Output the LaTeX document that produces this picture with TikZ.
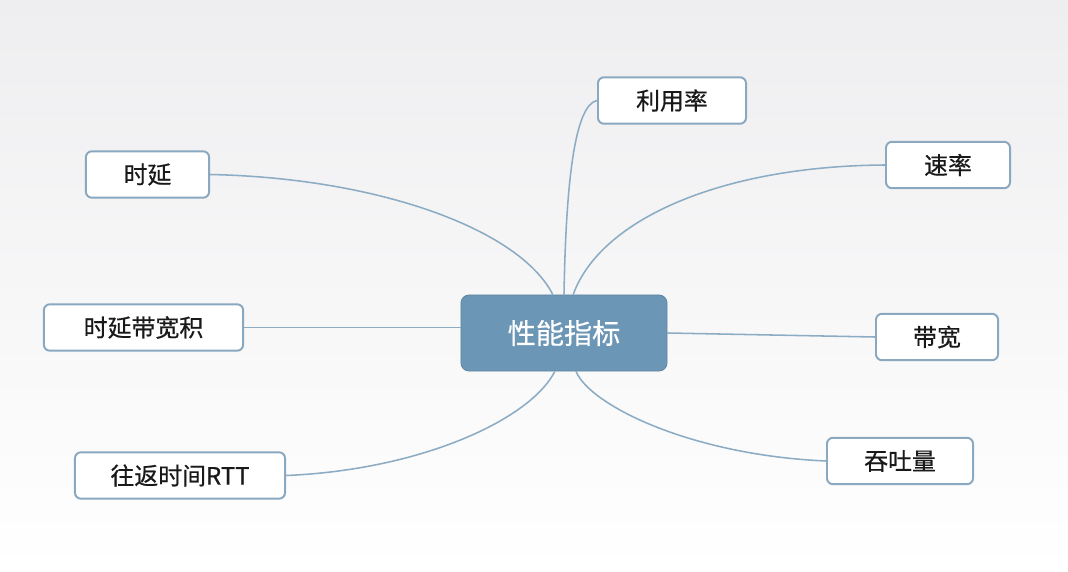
\documentclass[tikz,border=0pt]{standalone}
\usepackage{xcolor}
\usepackage{fontspec}
\usepackage{tikz}
\usetikzlibrary{positioning,calc}
\newfontfamily\cjk[FakeBold=0.5]{Noto Sans CJK SC}
\definecolor{hubblue}{RGB}{108,150,181}
\definecolor{leafline}{RGB}{138,168,192}
\definecolor{linkblue}{RGB}{140,172,196}
\definecolor{bgtop}{RGB}{238,238,240}

\begin{document}
\begin{tikzpicture}[x=0.025cm, y=-0.025cm,
  hub/.style={fill=hubblue, draw=hubblue!90!black, line width=0.6pt,
              rounded corners=0.2cm, minimum width=5.15cm,
              minimum height=1.9cm, inner sep=0pt, text=white,
              font=\cjk\fontsize{20}{24}\selectfont},
  leaf/.style={draw=leafline, fill=white, line width=1.4pt,
               rounded corners=0.15cm, minimum height=1.16cm,
               inner sep=0pt, text=black!90,
               font=\cjk\fontsize{17}{20}\selectfont},
  link/.style={draw=linkblue, line width=1.1pt}]
  % Background
  \useasboundingbox (0,0) rectangle (1068,572);
  \fill[top color=bgtop, bottom color=white] (0,0) rectangle (1068,572);
  % Center
  \node[hub] (core) at (564,333) {性能指标};
  % Leaves, left side
  \node[leaf, minimum width=3.08cm] (delay) at (147.5,174.5) {时延};
  \node[leaf, minimum width=4.98cm] (delaybw) at (143.5,327.5) {时延带宽积};
  \node[leaf, minimum width=5.25cm] (rtt) at (180,475.5) {往返时间RTT};
  % Leaves, right side
  \node[leaf, minimum width=3.7cm] (usage) at (672,100.5) {利用率};
  \node[leaf, minimum width=3.1cm] (rate) at (948,165) {速率};
  \node[leaf, minimum width=3.05cm] (bandwidth) at (937,337) {带宽};
  \node[leaf, minimum width=3.65cm] (throughput) at (900,461) {吞吐量};
  % Links
  \draw[link] (delay.east) .. controls (380,178) and (520,230)
    .. ([xshift=-0.28cm]core.north);
  \draw[link] (usage.west) .. controls (575,105) and (566,180)
    .. (core.north);
  \draw[link] (rate.west) .. controls (720,166) and (600,220)
    .. ([xshift=0.23cm]core.north);
  \draw[link] (delaybw.east) -- (delaybw.east -| core.west);
  \draw[link] (core.east) -- (bandwidth.west);
  \draw[link] (rtt.east) .. controls (420,470) and (530,420)
    .. ([xshift=-0.23cm]core.south);
  \draw[link] (throughput.west) .. controls (690,455) and (590,405)
    .. ([xshift=0.3cm]core.south);
\end{tikzpicture}
\end{document}
